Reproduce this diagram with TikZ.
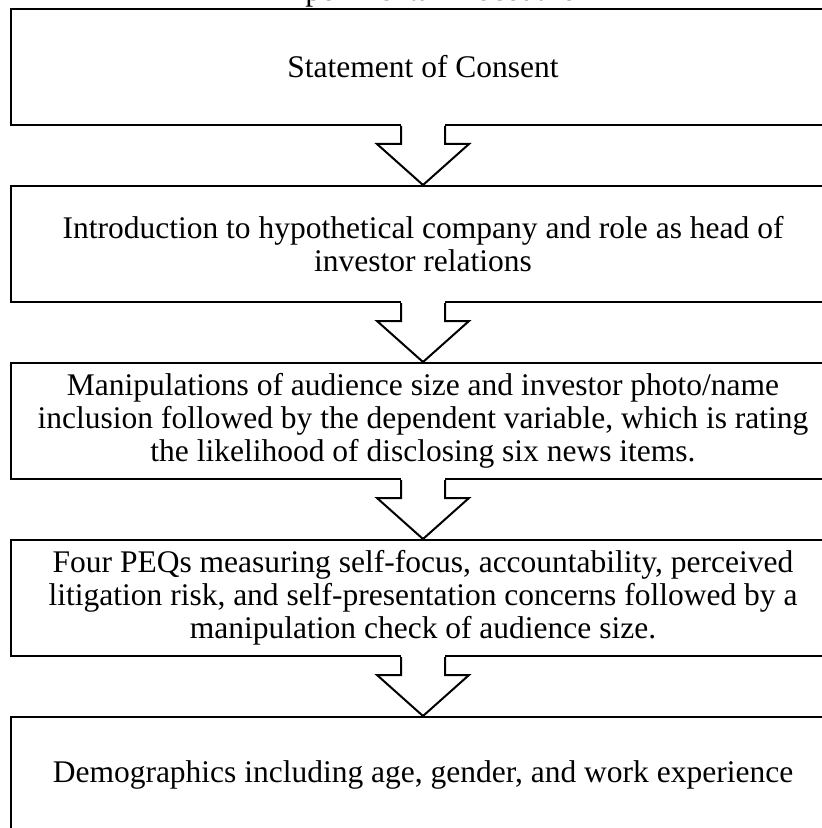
\documentclass[tikz,border=0pt]{standalone}
\usepackage{fontspec}
\setmainfont{Liberation Serif}
\usepackage{tikz}
\usetikzlibrary{calc, positioning}

\tikzstyle{process} = [rectangle, minimum width=412pt, minimum height=58pt, align=center, text centered, draw=black, line width=1pt, font=\fontsize{15.75pt}{16.5pt}\selectfont]
\tikzstyle{bigarrow} = [draw=black, line width=1pt, miter limit=10]

% block arrow between two stacked boxes
\newcommand{\flowarrow}[2]{%
	\fill[white] ($(#1.south)+(-22,-2)$) rectangle ($(#1.south)+(22,1)$);
	\draw[bigarrow] ($(#1.south)+(-22,0)$) -- ++(0,18) -- ++(-24,0) -- (#2.north)
		-- ($(#1.south)+(46,18)$) -- ++(-24,0) -- ++(0,-18);
}

\begin{document}
\begin{tikzpicture}[x=0.5pt, y=-0.5pt, node distance=29.5pt]
	\useasboundingbox (0,0) rectangle (822,828);
	\fill[white] (0,0) rectangle (822,828);

	\node[process] (consent) at (423,67) {Statement of Consent};
	\node[anchor=base, font=\fontsize{15.75pt}{16.5pt}\selectfont] (title) at (423,1) {Experimental Procedure};
	\node[process, below=of consent] (intro) {Introduction to hypothetical company and role as head of\\investor relations};
	\node[process, below=of intro] (manip) {Manipulations of audience size and investor photo/name\\inclusion followed by the dependent variable, which is rating\\the likelihood of disclosing six news items.};
	\node[process, below=of manip] (peq) {Four PEQs measuring self-focus, accountability, perceived\\litigation risk, and self-presentation concerns followed by a\\manipulation check of audience size.};
	\node[process, below=of peq] (demo) {Demographics including age, gender, and work experience};

	% Arrows
	\flowarrow{consent}{intro}
	\flowarrow{intro}{manip}
	\flowarrow{manip}{peq}
	\flowarrow{peq}{demo}
\end{tikzpicture}
\end{document}
